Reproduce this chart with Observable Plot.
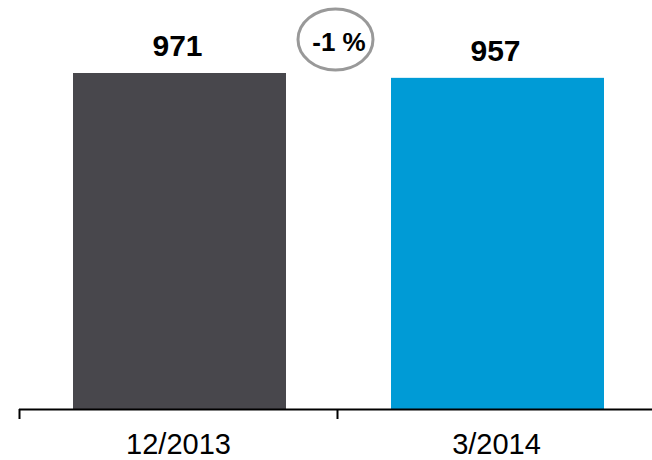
<!DOCTYPE html>
<html>
<head>
<meta charset="utf-8">
<script src="https://cdn.jsdelivr.net/npm/d3@7"></script>
<script src="https://cdn.jsdelivr.net/npm/@observablehq/plot@0.6"></script>
<style>
  html, body { margin: 0; padding: 0; background: #fff; }
</style>
</head>
<body>
<div id="chart"></div>
<script>
const categories = ["12/2013", "3/2014"];
const values = [971, 957];
const colors = ["#48474c", "#009bd6"];
const changeLabels = ["-1 %"];

const data = categories.map((c, i) => ({category: c, value: values[i], color: colors[i]}));
const annotation = [{category: categories[0], value: values[0], label: changeLabels[0]}];

// custom ellipse symbol
const ellipseSymbol = {
  draw(context) {
    const rx = 37.5, ry = 30.5, k = 0.5523;
    context.moveTo(rx, 0);
    context.bezierCurveTo(rx, ry * k, rx * k, ry, 0, ry);
    context.bezierCurveTo(-rx * k, ry, -rx, ry * k, -rx, 0);
    context.bezierCurveTo(-rx, -ry * k, -rx * k, -ry, 0, -ry);
    context.bezierCurveTo(rx * k, -ry, rx, -ry * k, rx, 0);
    context.closePath();
  }
};

const chart = Plot.plot({
  width: 652,
  height: 460,
  marginLeft: 19,
  marginRight: 0,
  marginTop: 0,
  marginBottom: 0,
  style: {fontFamily: "'Liberation Sans', Arial, sans-serif", background: "#fff", color: "#000"},
  x: {domain: categories, range: [19, 655], padding: 0, axis: null},
  y: {domain: [0, 971], range: [409, 73], axis: null},
  marks: [
    Plot.barY(data, {x: "category", y: "value", fill: "color", insetLeft: 54, insetRight: 51}),
    Plot.ruleY([0], {stroke: "#000", strokeWidth: 2}),
    Plot.ruleX(data, {x: "category", y1: 0, y2: 0, dx: -159, insetBottom: -10, stroke: "#000", strokeWidth: 2}),
    Plot.text(data, {x: "category", y: 0, text: "category", dy: 44.5, lineAnchor: "bottom", fontSize: 29, fill: "#000"}),
    Plot.text(data, {x: "category", y: "value", text: d => String(d.value), dx: -1, dy: -17.5, lineAnchor: "bottom", fontSize: 30, fontWeight: "bold", fill: "#000"}),
    Plot.dot(annotation, {x: "category", y: "value", dx: 157, dy: -34, symbol: ellipseSymbol, r: 10, stroke: "#999", strokeWidth: 3, fill: "none"}),
    Plot.text(annotation, {x: "category", y: "value", text: "label", dx: 160.5, dy: -23, lineAnchor: "bottom", fontSize: 26, fontWeight: "bold", fill: "#000"})
  ]
});
document.getElementById("chart").appendChild(chart);
</script>
</body>
</html>
